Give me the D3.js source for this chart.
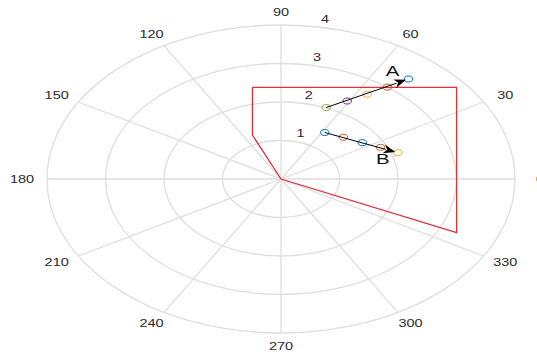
<!DOCTYPE html>
<html>
<head>
<meta charset="utf-8">
<script src="https://cdn.jsdelivr.net/npm/d3@7"></script>
<style>
  html, body { margin: 0; padding: 0; background: #ffffff; overflow: hidden; }
  #chart { width: 537px; height: 358px; }
</style>
</head>
<body>
<div id="chart"></div>
<script>
// Polar grid ticks
const thetaTicks = [0, 30, 60, 90, 120, 150, 180, 210, 240, 270, 300, 330];
const rTicks = [1, 2, 3, 4];
const rMax = 4;

// Trajectory A (angle in degrees, radius)
const seriesATheta = [67.4, 60.8, 56.2, 52.7, 50.0];
const seriesAR = [2.01, 2.32, 2.65, 3.00, 3.39];

// Trajectory B
const seriesBTheta = [58.2, 45.5, 34.2, 25.8, 18.9];
const seriesBR = [1.42, 1.52, 1.68, 1.89, 2.11];

// Red boundary polygon
const boundaryTheta = [101.6, 38.4, 335.1, 0, 113.2, 101.6];
const boundaryR = [2.43, 3.83, 3.31, 0, 1.24, 2.43];

// Marker colours (MATLAB colour order)
const colorsA = ['#8fae45', '#7E2F8E', '#EDB120', '#D95319', '#0072BD'];
const colorsB = ['#0072BD', '#D95319', '#0072BD', '#D95319', '#EDB120'];

const width = 537, height = 358;
const cx = 281, cy = 179, rx = 234, ry = 154;

const svg = d3.select('#chart').append('svg')
    .attr('width', width)
    .attr('height', height)
    .style('font-family', 'Liberation Sans, Arial, sans-serif');

// scales (polar axes are stretched horizontally in the picture)
const xScale = d3.scaleLinear().domain([-rMax, rMax]).range([cx - rx, cx + rx]);
const yScale = d3.scaleLinear().domain([-rMax, rMax]).range([cy + ry, cy - ry]);

const toXY = (theta, r) => {
    const a = theta * Math.PI / 180;
    return [xScale(r * Math.cos(a)), yScale(r * Math.sin(a))];
};

const gridColor = '#dedede';
const textColor = '#2b2b2b';
const stretch = 1.45;

// rings
svg.append('g').selectAll('ellipse')
    .data(rTicks)
    .enter().append('ellipse')
    .attr('cx', xScale(0))
    .attr('cy', yScale(0))
    .attr('rx', d => xScale(d) - xScale(0))
    .attr('ry', d => yScale(0) - yScale(d))
    .attr('fill', 'none')
    .attr('stroke', gridColor)
    .attr('stroke-width', 1.3);

// spokes
svg.append('g').selectAll('line')
    .data(thetaTicks)
    .enter().append('line')
    .attr('x1', xScale(0))
    .attr('y1', yScale(0))
    .attr('x2', d => toXY(d, rMax)[0])
    .attr('y2', d => toXY(d, rMax)[1])
    .attr('stroke', gridColor)
    .attr('stroke-width', 1.3);

// angle labels
svg.append('g').selectAll('text')
    .data(thetaTicks)
    .enter().append('text')
    .attr('transform', d => {
        const a = d * Math.PI / 180;
        const lx = cx + (rx + 25) * Math.cos(a);
        const ly = cy - (ry + 13) * Math.sin(a);
        return `translate(${lx},${ly}) scale(${stretch},1)`;
    })
    .attr('text-anchor', 'middle')
    .attr('dy', '0.35em')
    .attr('font-size', '10px')
    .attr('fill', textColor)
    .text(d => d);

// radius labels
svg.append('g').selectAll('text')
    .data(rTicks)
    .enter().append('text')
    .attr('transform', d => {
        const p = toXY(82, d);
        return `translate(${p[0] + 11.5},${p[1] - 7}) scale(${stretch},1)`;
    })
    .attr('text-anchor', 'middle')
    .attr('dy', '0.35em')
    .attr('font-size', '10px')
    .attr('fill', textColor)
    .text(d => d);

// boundary polygon
const boundaryPts = boundaryTheta.map((t, i) => toXY(t, boundaryR[i]));
svg.append('path')
    .attr('d', d3.line()(boundaryPts))
    .attr('fill', 'none')
    .attr('stroke', '#e0303a')
    .attr('stroke-width', 1.3);

function drawSeries(thetas, rs, colors, label, labelDx, labelDy) {
    const pts = thetas.map((t, i) => toXY(t, rs[i]));
    const g = svg.append('g');

    g.selectAll('ellipse')
        .data(pts)
        .enter().append('ellipse')
        .attr('cx', d => d[0])
        .attr('cy', d => d[1])
        .attr('rx', 4.2)
        .attr('ry', 3)
        .attr('fill', 'none')
        .attr('stroke', (d, i) => colors[i])
        .attr('stroke-width', 1);

    // arrow from first to last point
    const p0 = pts[0], p1 = pts[pts.length - 1];
    const dx = p1[0] - p0[0], dy = p1[1] - p0[1];
    const len = Math.sqrt(dx * dx + dy * dy);
    const ux = dx / len, uy = dy / len;
    const tip = [p1[0] - ux * 2.5, p1[1] - uy * 2.5];
    const headLen = 12, headW = 4.5;
    const base = [tip[0] - ux * headLen, tip[1] - uy * headLen];

    g.append('line')
        .attr('x1', p0[0]).attr('y1', p0[1])
        .attr('x2', base[0] + ux * 2).attr('y2', base[1] + uy * 2)
        .attr('stroke', '#000')
        .attr('stroke-width', 1);

    g.append('path')
        .attr('d', d3.line()([
            tip,
            [base[0] - uy * headW, base[1] + ux * headW],
            [base[0] + ux * 3.5, base[1] + uy * 3.5],
            [base[0] + uy * headW, base[1] - ux * headW]
        ]) + 'Z')
        .attr('fill', '#000');

    g.append('text')
        .attr('transform', `translate(${p1[0] + labelDx},${p1[1] + labelDy}) scale(${stretch},1)`)
        .attr('text-anchor', 'middle')
        .attr('dy', '0.35em')
        .attr('font-size', '14px')
        .attr('fill', '#111')
        .text(label);
}

drawSeries(seriesATheta, seriesAR, colorsA, 'A', -16, -8);
drawSeries(seriesBTheta, seriesBR, colorsB, 'B', -15, 6.5);
</script>
</body>
</html>
